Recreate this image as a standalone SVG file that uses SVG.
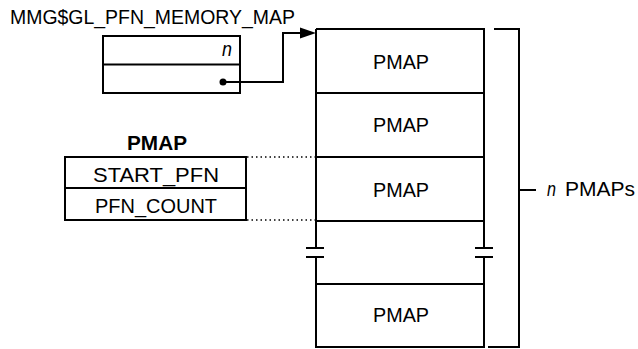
<svg xmlns="http://www.w3.org/2000/svg" width="638" height="349" viewBox="0 0 638 349">
<defs>
<style>
.t{font-family:"Liberation Sans",Arial,sans-serif;font-size:21px;fill:#000}
.b{font-weight:bold}
.i{font-style:italic}
.s{fill:none;stroke:#000;stroke-width:2}
.d{fill:none;stroke:#000;stroke-width:1.3;stroke-dasharray:1.5 3}
.ah{fill:#000;stroke:none}
</style>
</defs>
<rect width="638" height="349" fill="#fff"/>
<g id="memory_map">
<text class="t" x="10" y="24" textLength="285" lengthAdjust="spacingAndGlyphs">MMG$GL_PFN_MEMORY_MAP</text>
<rect class="s" x="103" y="36" width="137" height="57"/>
<line class="s" x1="103" y1="64.5" x2="240" y2="64.5"/>
<text class="t i" x="222" y="56" textLength="10" lengthAdjust="spacingAndGlyphs">n</text>
<circle cx="223" cy="82" r="3.5" fill="#000"/>
</g>
<g id="pmap_struct">
<text class="t b" x="157" y="150" text-anchor="middle" textLength="60" lengthAdjust="spacingAndGlyphs">PMAP</text>
<rect class="s" x="65" y="157" width="181" height="63"/>
<line class="s" x1="65" y1="188" x2="246" y2="188"/>
<text class="t" x="156" y="182" text-anchor="middle" textLength="126" lengthAdjust="spacingAndGlyphs">START_PFN</text>
<text class="t" x="156" y="213" text-anchor="middle" textLength="122" lengthAdjust="spacingAndGlyphs">PFN_COUNT</text>
</g>
<g id="pmap_array">
<path class="s" d="M316,29 H484 V248 M484,257 V347 H316 V257 M316,248 V29"/>
<line class="s" x1="316" y1="93" x2="484" y2="93"/>
<line class="s" x1="316" y1="157" x2="484" y2="157"/>
<line class="s" x1="316" y1="221" x2="484" y2="221"/>
<line class="s" x1="316" y1="284" x2="484" y2="284"/>
<path class="s" d="M306,248 H324 M306,257 H324 M475,248 H493 M475,257 H493"/>
<text class="t" x="401" y="69" text-anchor="middle" textLength="56" lengthAdjust="spacingAndGlyphs">PMAP</text>
<text class="t" x="401" y="132" text-anchor="middle" textLength="56" lengthAdjust="spacingAndGlyphs">PMAP</text>
<text class="t" x="401" y="197" text-anchor="middle" textLength="56" lengthAdjust="spacingAndGlyphs">PMAP</text>
<text class="t" x="401" y="322" text-anchor="middle" textLength="56" lengthAdjust="spacingAndGlyphs">PMAP</text>
</g>
<g id="bracket">
<path class="s" d="M494,29 H519 V347 H488 M519,190 H536"/>
<text class="t i" x="547" y="196" textLength="9" lengthAdjust="spacingAndGlyphs">n</text>
<text class="t" x="565" y="196" textLength="70" lengthAdjust="spacingAndGlyphs">PMAPs</text>
</g>
<g id="connectors">
<path class="s" d="M223,82 H283 V33 H302"/>
<polygon class="ah" points="316,33 300,27.5 300,38.5"/>
<line class="d" x1="247" y1="157" x2="315" y2="157"/>
<line class="d" x1="247" y1="220" x2="315" y2="220"/>
</g>
</svg>
